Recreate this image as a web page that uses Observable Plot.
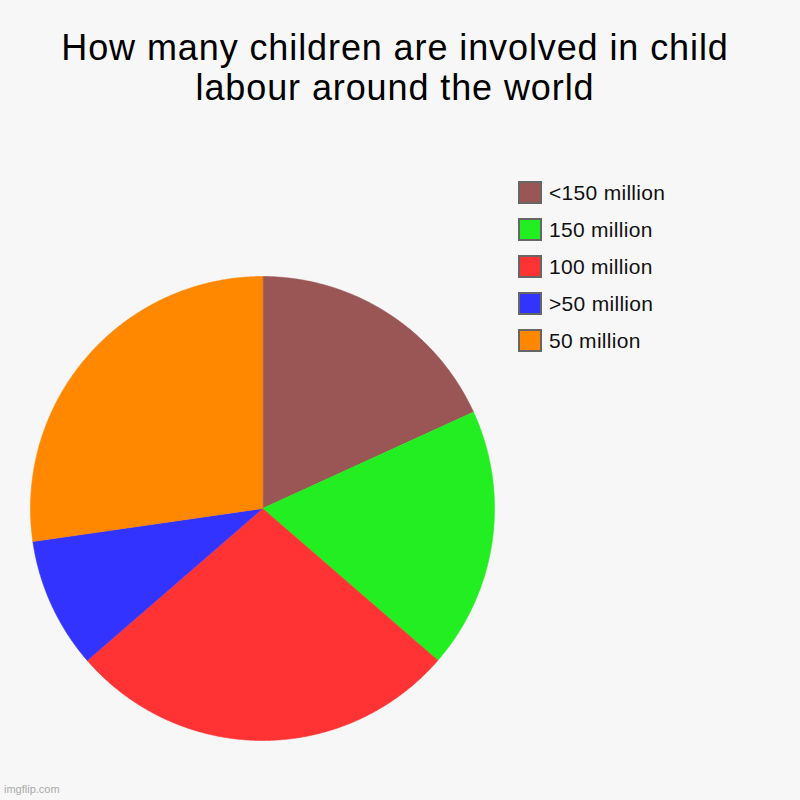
<!DOCTYPE html>
<html>
<head>
<meta charset="utf-8">
<script src="https://cdn.jsdelivr.net/npm/d3@7"></script>
<script src="https://cdn.jsdelivr.net/npm/@observablehq/plot@0.6"></script>
<style>
  html, body { margin: 0; padding: 0; background: #f7f7f7; }
  #wrap { position: relative; width: 800px; height: 800px; background: #f7f7f7; font-family: "Liberation Sans", Arial, sans-serif; overflow: hidden; }
  #title { position: absolute; left: -5px; top: 28px; width: 800px; text-align: center; font-size: 36px; line-height: 40px; letter-spacing: 0.9px; color: #000; }
  #plot { position: absolute; left: 0; top: 0; }
  #legend { position: absolute; left: 518px; top: 174px; }
  .row { display: flex; align-items: center; height: 37px; }
  .sw { width: 20px; height: 19px; border: 2px solid #666; margin-right: 7px; box-sizing: content-box; }
  .lb { font-size: 21px; letter-spacing: 0.3px; color: #111; }
  #wm { position: absolute; left: 4px; top: 783px; font-size: 11px; color: #aaa; }
</style>
</head>
<body>
<div id="wrap">
  <div id="plot"></div>
  <div id="title">How many children are involved in child<br>labour around the world</div>
  <div id="legend"></div>
  <div id="wm">imgflip.com</div>
</div>
<script>
const categories = ["<150 million", "150 million", "100 million", ">50 million", "50 million"];
const values = [2, 2, 3, 1, 3];
const colors = ["#9a5555", "#22ee22", "#ff3333", "#3333ff", "#ff8800"];

const arcs = d3.pie().sort(null).value(d => d.value)(categories.map((c, i) => ({key: c, value: values[i]})));
const pts = [];
for (const a of arcs) {
  const key = a.data.key;
  pts.push({key, x: 0, y: 0});
  const n = Math.max(2, Math.ceil((a.endAngle - a.startAngle) / 0.005));
  for (let k = 0; k <= n; k++) {
    const t = a.startAngle + (a.endAngle - a.startAngle) * k / n;
    pts.push({key, x: Math.sin(t), y: Math.cos(t)});
  }
}

const chart = Plot.plot({
  width: 800,
  height: 800,
  margin: 0,
  style: {background: "transparent"},
  x: {domain: [-1, 1], range: [30, 494], axis: null},
  y: {domain: [-1, 1], range: [740, 276], axis: null},
  color: {domain: categories, range: colors},
  marks: [
    Plot.line(pts, {x: "x", y: "y", z: "key", fill: "key", stroke: "key", strokeWidth: 0.6, curve: "linear-closed"})
  ]
});
document.getElementById("plot").appendChild(chart);

const leg = document.getElementById("legend");
categories.forEach((c, i) => {
  const r = document.createElement("div");
  r.className = "row";
  r.innerHTML = `<div class="sw" style="background:${colors[i]}"></div><div class="lb"></div>`;
  r.querySelector(".lb").textContent = c;
  leg.appendChild(r);
});
</script>
</body>
</html>
